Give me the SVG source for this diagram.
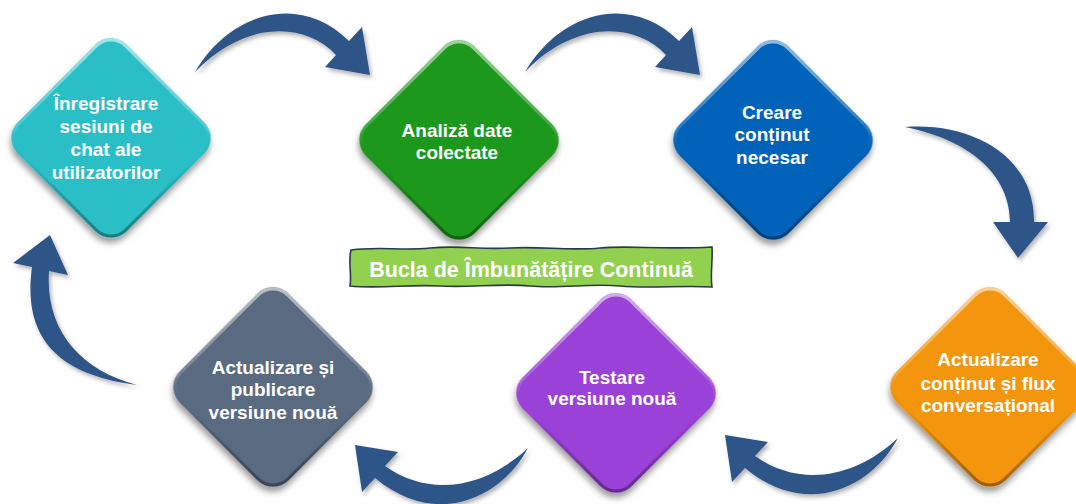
<svg xmlns="http://www.w3.org/2000/svg" width="1076" height="504" viewBox="0 0 1076 504">
<defs>
  <filter id="sh" x="-20%" y="-20%" width="145%" height="145%">
    <feDropShadow dx="3" dy="4" stdDeviation="3" flood-color="#000" flood-opacity="0.4"/>
  </filter>
  <filter id="ash" x="-20%" y="-20%" width="145%" height="145%">
    <feDropShadow dx="2" dy="3" stdDeviation="2" flood-color="#000" flood-opacity="0.3"/>
  </filter>
  <linearGradient id="bev" x1="0" y1="0" x2="1" y2="1">
    <stop offset="0" stop-color="#fff" stop-opacity="0.6"/>
    <stop offset="0.45" stop-color="#fff" stop-opacity="0.15"/>
    <stop offset="0.6" stop-color="#000" stop-opacity="0"/>
    <stop offset="1" stop-color="#000" stop-opacity="0.4"/>
  </linearGradient>
</defs>
<style>
  .dm { filter: url(#sh); }
  .bv { fill: none; stroke: url(#bev); stroke-width: 3; }
  .t { font-family: "Liberation Sans", Arial, sans-serif; font-weight: bold; font-size: 19px; fill: #fff; text-anchor: middle; }
  .lbl { font-family: "Liberation Sans", Arial, sans-serif; font-weight: bold; font-size: 21.5px; fill: #fff; text-anchor: middle; }
  .ar { fill: #2F5488; filter: url(#ash); }
</style>
<rect width="1076" height="504" fill="#fff"/>

<g id="connectors">
  <path class="ar" d="M195,72 C230,12 300,-8 349,41 L362,27 L370,75 L325,67 L336,55 C305,22 245,20 195,72 Z"/>
  <path class="ar" transform="translate(330,0)" d="M195,72 C230,12 300,-8 349,41 L362,27 L370,75 L325,67 L336,55 C305,22 245,20 195,72 Z"/>
  <path class="ar" d="M905,127 C970,122 1035,155 1034,222 L1048,222 L1018,258 L993,222 L1010,222 C1010,175 970,140 905,127 Z"/>
  <path class="ar" d="M898,438 C870,490 805,518 745,468 L732,482 L725,435 L768,442 L755,456 C800,488 855,478 898,438 Z"/>
  <path class="ar" transform="translate(-370,10)" d="M898,438 C870,490 805,518 745,468 L732,482 L725,435 L768,442 L755,456 C800,488 855,478 898,438 Z"/>
  <path class="ar" d="M137,385 C60,375 22,340 32,267 L13,263 L50,235 L68,275 L49,271 C45,330 80,370 137,385 Z"/>
</g>

<g id="n1">
  <rect class="dm" x="-77" y="-77" width="154" height="154" rx="22" transform="translate(111,138) rotate(45)" fill="#2CBFC7"/>
  <rect class="bv" x="-75.5" y="-75.5" width="151" height="151" rx="21" transform="translate(111,138) rotate(45)"/>
  <text class="t" x="106" y="110">Înregistrare</text>
  <text class="t" x="106" y="133">sesiuni de</text>
  <text class="t" x="106" y="156">chat ale</text>
  <text class="t" x="106" y="179">utilizatorilor</text>
</g>

<g id="n2">
  <rect class="dm" x="-77" y="-77" width="154" height="154" rx="22" transform="translate(459,140) rotate(45)" fill="#1E981F"/>
  <rect class="bv" x="-75.5" y="-75.5" width="151" height="151" rx="21" transform="translate(459,140) rotate(45)"/>
  <text class="t" x="457" y="137">Analiză date</text>
  <text class="t" x="457" y="159">colectate</text>
</g>

<g id="n3">
  <rect class="dm" x="-77" y="-77" width="154" height="154" rx="22" transform="translate(773,140) rotate(45)" fill="#0562B8"/>
  <rect class="bv" x="-75.5" y="-75.5" width="151" height="151" rx="21" transform="translate(773,140) rotate(45)"/>
  <text class="t" x="772" y="119">Creare</text>
  <text class="t" x="772" y="141">conținut</text>
  <text class="t" x="772" y="164">necesar</text>
</g>

<g id="n4">
  <rect class="dm" x="-77" y="-77" width="154" height="154" rx="22" transform="translate(990,387) rotate(45)" fill="#F3950A"/>
  <rect class="bv" x="-75.5" y="-75.5" width="151" height="151" rx="21" transform="translate(990,387) rotate(45)"/>
  <text class="t" x="988" y="366">Actualizare</text>
  <text class="t" x="988" y="390">conținut și flux</text>
  <text class="t" x="988" y="412">conversațional</text>
</g>

<g id="n5">
  <rect class="dm" x="-77" y="-77" width="154" height="154" rx="22" transform="translate(616,393) rotate(45)" fill="#9A42D8"/>
  <rect class="bv" x="-75.5" y="-75.5" width="151" height="151" rx="21" transform="translate(616,393) rotate(45)"/>
  <text class="t" x="612" y="384">Testare</text>
  <text class="t" x="612" y="405">versiune nouă</text>
</g>

<g id="n6">
  <rect class="dm" x="-77" y="-77" width="154" height="154" rx="22" transform="translate(273,387) rotate(45)" fill="#5A6B80"/>
  <rect class="bv" x="-75.5" y="-75.5" width="151" height="151" rx="21" transform="translate(273,387) rotate(45)"/>
  <text class="t" x="273" y="374">Actualizare și</text>
  <text class="t" x="273" y="396">publicare</text>
  <text class="t" x="273" y="419">versiune nouă</text>
</g>

<g id="title">
  <path d="M351,250 C380,246 400,251 430,248 S480,250 510,248 S570,251 600,248 S660,250 712,247 C713,260 710,275 712,287 C680,285 650,289 620,286 S560,289 530,286 S470,288 440,286 S380,289 350,286 C352,275 348,262 351,250 Z" fill="#92D050" stroke="#2B3A4A" stroke-width="1.6"/>
  <text class="lbl" x="531" y="277">Bucla de Îmbunătățire Continuă</text>
</g>
</svg>
